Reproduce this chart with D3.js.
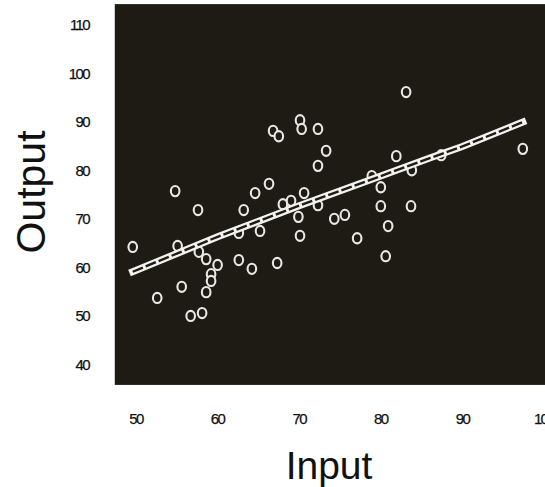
<!DOCTYPE html>
<html>
<head>
<meta charset="utf-8">
<script src="https://cdn.jsdelivr.net/npm/d3@7"></script>
<style>
body { margin: 0; background: #fff; }
text { font-family: "Liberation Sans", Arial, sans-serif; }
</style>
</head>
<body>
<div id="chart"></div>
<script>
// data
var inputVals = [49.6, 52.6, 54.8, 55.1, 55.6, 56.7, 58.1, 57.6, 57.7, 58.6, 60.0, 59.2, 59.2, 58.6,
  62.6, 64.2, 63.2, 64.6, 66.3, 62.6, 65.2, 66.8, 67.5, 70.1, 70.3, 72.3, 73.3, 72.3, 70.6,
  68.0, 69.0, 72.3, 69.9, 70.1, 67.3, 74.3, 75.6, 77.1, 78.9, 80.0, 80.0, 80.9, 80.6, 83.1,
  81.9, 83.8, 83.7, 87.4, 97.4];
var outputVals = [64.3, 53.8, 75.8, 64.5, 56.1, 50.1, 50.7, 71.9, 63.3, 61.8, 60.6, 58.7, 57.3, 55.0,
  61.6, 59.8, 71.9, 75.4, 77.3, 67.2, 67.6, 88.2, 87.1, 90.4, 88.6, 88.6, 84.1, 81.0, 75.4,
  73.1, 73.8, 72.9, 70.5, 66.6, 61.0, 70.1, 70.9, 66.1, 78.9, 76.6, 72.7, 68.6, 62.4, 96.2,
  83.0, 80.1, 72.7, 83.2, 84.5];
var fitX = [49.6, 60, 70, 80, 86, 90, 97.4];
var fitY = [59.2, 66.4, 72.8, 78.9, 82.6, 85.0, 90.0];
var xTicks = [50, 60, 70, 80, 90, 100];
var yTicks = [40, 50, 60, 70, 80, 90, 100, 110];

var W = 545, H = 487;
var svg = d3.select("#chart").append("svg")
  .attr("width", W).attr("height", H);

var x = d3.scaleLinear().domain([50, 100]).range([136, 544]);
var y = d3.scaleLinear().domain([40, 110]).range([365, 25]);

// plot background
svg.append("rect")
  .attr("x", x(47.4)).attr("y", y(114.3))
  .attr("width", x(100.2) - x(47.4))
  .attr("height", y(35.9) - y(114.3))
  .attr("fill", "#1d1b13");

// tick labels
svg.selectAll(".xt").data(xTicks).enter().append("text")
  .attr("x", function(d){ return x(d); })
  .attr("y", 424)
  .attr("text-anchor", "middle")
  .style("font-size", "15px")
  .style("letter-spacing", "-1.6px")
  .attr("fill", "#111")
  .attr("stroke", "#111").attr("stroke-width", 0.25)
  .text(function(d){ return d; });

svg.selectAll(".yt").data(yTicks).enter().append("text")
  .attr("x", 89)
  .attr("y", function(d){ return y(d) + 5; })
  .attr("text-anchor", "end")
  .style("font-size", "15px")
  .style("letter-spacing", "-1.6px")
  .attr("fill", "#111")
  .attr("stroke", "#111").attr("stroke-width", 0.25)
  .text(function(d){ return d; });

// axis titles
svg.append("text")
  .attr("x", 329).attr("y", 479)
  .attr("text-anchor", "middle")
  .style("font-size", "39px")
  .attr("fill", "#111")
  .text("Input");

svg.append("text")
  .attr("transform", "translate(45,192) rotate(-90)")
  .attr("text-anchor", "middle")
  .style("font-size", "41px")
  .attr("fill", "#111")
  .text("Output");

// points
var pts = inputVals.map(function(d, i){ return [d, outputVals[i]]; });
svg.append("g").selectAll("ellipse").data(pts).enter().append("ellipse")
  .attr("cx", function(d){ return x(d[0]); })
  .attr("cy", function(d){ return y(d[1]); })
  .attr("rx", 4.3).attr("ry", 5.1)
  .attr("fill", "#1d1b13")
  .attr("stroke", "#e8e8e4")
  .attr("stroke-width", 2.1);

// fit line: white band with dark dashed core
var fit = fitX.map(function(d, i){ return [d, fitY[i]]; });
var line = d3.line().x(function(d){ return x(d[0]); }).y(function(d){ return y(d[1]); });
svg.append("path").datum(fit)
  .attr("d", line)
  .attr("fill", "none")
  .attr("stroke", "#f2f2f0")
  .attr("stroke-width", 7)
  .attr("stroke-linecap", "square");
svg.append("path").datum(fit)
  .attr("d", line)
  .attr("fill", "none")
  .attr("stroke", "#1d1b13")
  .attr("stroke-width", 2.4)
  .attr("stroke-dasharray", "11,3");
</script>
</body>
</html>
